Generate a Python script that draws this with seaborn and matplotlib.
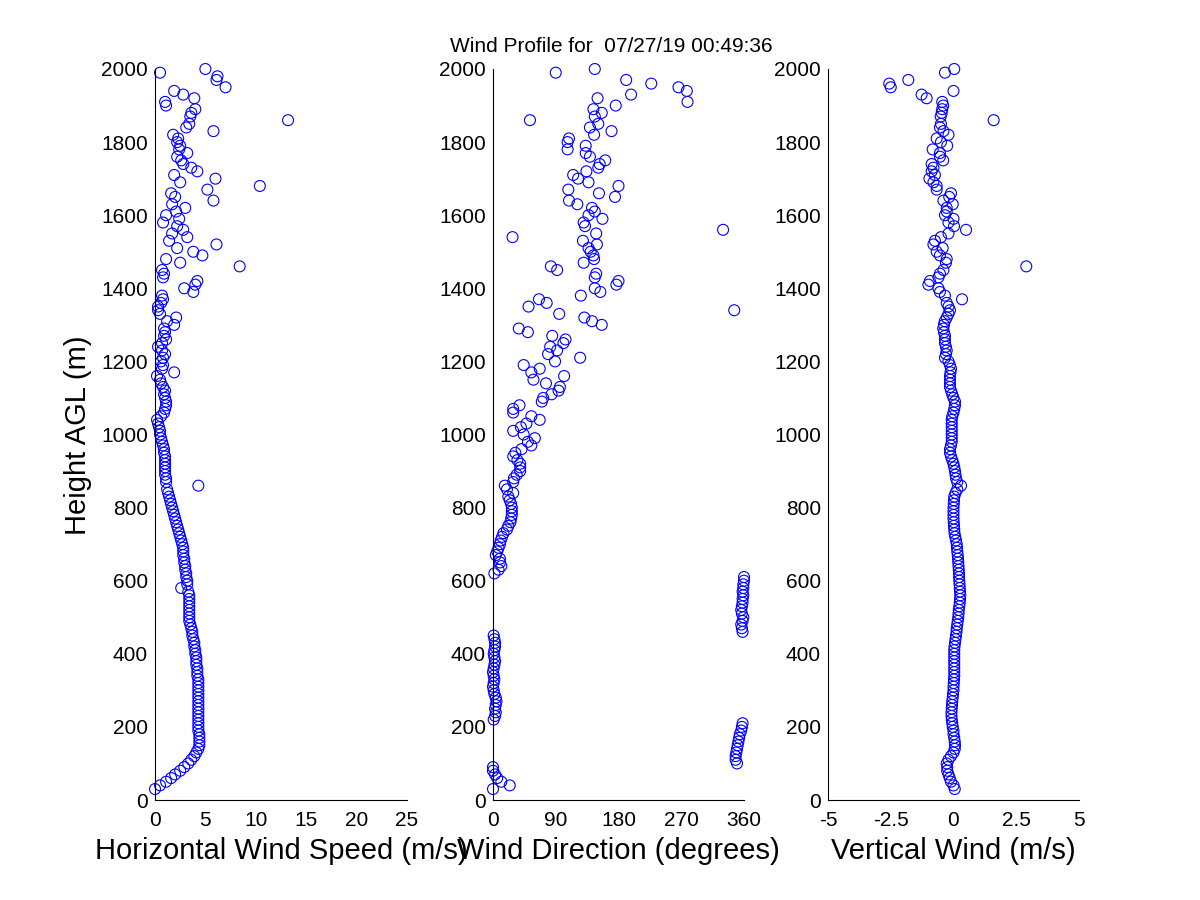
import numpy as np
import pandas as pd
import matplotlib
matplotlib.use("Agg")
import matplotlib.pyplot as plt
import seaborn as sns

nan = np.nan

# Range-gate heights (m AGL), 30 m to 2000 m every 10 m
heights = list(range(30, 2001, 10))

# Horizontal wind speed (m/s)
speed = [
    0.0, 0.5, 1.1, 1.6, 2.0, 2.5, 2.9, 3.3, 3.6, 3.9,      # 30-120
    4.1, 4.3, 4.4, 4.4, 4.4, 4.4, 4.3, 4.3, 4.3, 4.3,      # 130-220
    4.3, 4.3, 4.3, 4.3, 4.3, 4.3, 4.3, 4.3, 4.3, 4.3,      # 230-320
    4.3, 4.2, 4.2, 4.2, 4.1, 4.1, 4.1, 4.0, 4.0, 3.9,      # 330-420
    3.9, 3.8, 3.7, 3.7, 3.6, 3.5, 3.4, 3.4, 3.4, 3.4,      # 430-520
    3.4, 3.4, 3.4, 3.4, 3.3, 2.6, 3.2, 3.2, 3.1, 3.1,      # 530-620
    3.0, 3.0, 2.9, 2.9, 2.8, 2.8, 2.8, 2.7, 2.6, 2.5,      # 630-720
    2.4, 2.3, 2.2, 2.1, 2.0, 1.9, 1.8, 1.7, 1.6, 1.5,      # 730-820
    1.4, 1.3, 1.2, 4.3, 1.1, 1.1, 1.0, 1.0, 1.0, 1.0,      # 830-920
    1.0, 1.0, 0.9, 0.9, 0.8, 0.7, 0.6, 0.5, 0.5, 0.4,      # 930-1020
    0.3, 0.2, 0.6, 0.9, 1.0, 1.1, 1.1, 1.0, 0.9, 1.0,      # 1030-1120
    0.8, 0.6, 0.5, 0.2, 1.9, 0.7, 0.8, 0.6, 0.8, 1.0,      # 1130-1220
    0.7, 0.3, 0.7, 1.1, 0.9, 1.0, 0.9, 1.9, 1.2, 2.1,      # 1230-1320
    0.5, 0.3, 0.3, 0.6, 0.8, 0.7, 3.8, 2.9, 4.0, 4.2,      # 1330-1420
    0.8, 0.9, 0.7, 8.4, 2.5, 1.1, 4.7, 3.8, 2.2, 6.1,      # 1430-1520
    1.4, 3.2, 1.7, 2.8, 2.2, 0.8, 2.4, 1.1, 2.1, 3.0,      # 1530-1620
    1.7, 5.8, 2.0, 1.6, 5.2, 10.4, 2.5, 6.0, 1.9, 4.2,     # 1630-1720
    3.6, 2.8, 2.6, 2.2, 3.2, 2.4, 2.5, 2.2, 2.3, 1.8,      # 1730-1820
    5.8, 3.1, 3.4, 13.2, 3.5, 3.6, 4.0, 1.1, 1.0, 3.9,     # 1830-1920
    2.8, 1.9, 7.0, nan, 6.1, 6.2, 0.5, 5.0,                # 1930-2000
]

# Wind direction (degrees)
direction = [
    0, 24, 12, 6, 3, 0, 0, 350, 348, 348,                  # 30-120
    349, 350, 351, 352, 353, 354, 356, 357, 358, 1,        # 130-220
    3, 4, 3, 4, 5, 4, 2, 1, 0, 1,                          # 230-320
    2, 1, 0, 1, 2, 3, 2, 1, 2, 3,                          # 330-420
    3, 2, 1, 358, 357, 356, 358, 359, 357, 356,            # 430-520
    357, 358, 358, 359, 358, 359, 359, 360, 360, 2,        # 530-620
    8, 12, 10, 10, 4, 6, 8, 10, 11, 13,                    # 630-720
    15, 20, 22, 25, 26, 27, 27, 27, 26, 24,                # 730-820
    22, 29, 20, 17, 29, 30, 34, 39, 39, 39,                # 830-920
    35, 29, 32, 41, 55, 50, 60, 44, 29, 40,                # 930-1020
    48, 67, 55, 29, 29, 38, 70, 72, 84, 94,                # 1030-1120
    96, 76, 58, 102, 55, 67, 44, 89, 125, 79,              # 1130-1220
    92, 82, 101, 104, 85, 50, 37, 156, 142, 131,           # 1230-1320
    95, 346, 51, 77, 66, 126, 154, 146, 177, 180,          # 1330-1420
    146, 148, 92, 83, 130, 145, 144, 140, 137, 149,        # 1430-1520
    129, 28, 148, 330, 132, 130, 157, 137, 146, 142,       # 1530-1620
    121, 109, 175, 152, 108, 180, 137, 122, 115, 134,      # 1630-1720
    151, 153, 161, 139, 133, 107, 133, 107, 109, 145,      # 1730-1820
    170, 139, 151, 53, 146, 156, 144, 176, 279, 150,       # 1830-1920
    198, 278, 266, 227, 191, nan, 90, 146,                 # 1930-2000
]

# Vertical wind (m/s)
vertical = [
    0.05, 0.0, -0.1, -0.15, -0.2, -0.25, -0.25, -0.27, -0.2, -0.1,       # 30-120
    0.0, 0.05, 0.06, 0.05, 0.03, 0.0, 0.0, -0.03, -0.05, -0.07,          # 130-220
    -0.08, -0.08, -0.07, -0.06, -0.05, -0.03, -0.02, 0.0, 0.0, 0.01,     # 230-320
    0.02, 0.03, 0.03, 0.03, 0.03, 0.03, 0.03, 0.03, 0.03, 0.04,          # 330-420
    0.06, 0.08, 0.1, 0.12, 0.13, 0.15, 0.17, 0.19, 0.2, 0.21,            # 430-520
    0.23, 0.25, 0.26, 0.27, 0.26, 0.25, 0.24, 0.23, 0.22, 0.22,          # 530-620
    0.21, 0.2, 0.19, 0.18, 0.17, 0.15, 0.14, 0.13, 0.1, 0.07,            # 630-720
    0.04, 0.03, 0.02, 0.01, 0.0, 0.0, 0.0, 0.0, 0.01, 0.02,              # 730-820
    0.03, 0.08, 0.15, 0.3, 0.15, 0.1, 0.08, 0.06, 0.03, 0.0,             # 830-920
    -0.05, -0.1, -0.14, -0.14, -0.1, -0.07, -0.07, -0.07, -0.07, -0.07,  # 930-1020
    -0.07, -0.07, -0.05, 0.0, 0.03, 0.06, 0.06, 0.0, -0.05, -0.1,        # 1030-1120
    -0.14, -0.14, -0.14, -0.14, -0.12, -0.1, -0.14, -0.2, -0.34, -0.3,   # 1130-1220
    -0.27, -0.3, -0.34, -0.34, -0.34, -0.38, -0.41, -0.38, -0.35, -0.27, # 1230-1320
    -0.2, -0.14, -0.2, -0.27, 0.34, -0.34, -0.54, -0.6, -1.0, -0.94,     # 1330-1420
    -0.6, -0.54, -0.4, 2.9, -0.3, -0.27, -0.54, -0.67, -0.43, -0.8,      # 1430-1520
    -0.74, -0.5, -0.2, 0.5, 0.02, -0.2, 0.0, -0.34, -0.27, -0.27,        # 1530-1620
    -0.03, -0.4, -0.17, -0.1, -0.67, -0.67, -0.8, -0.96, -0.74, -0.87,   # 1630-1720
    -0.8, -0.87, -0.41, -0.54, -0.54, -0.83, -0.25, -0.5, -0.67, -0.2,   # 1730-1820
    -0.4, -0.54, -0.5, 1.6, -0.51, -0.47, -0.45, -0.41, -0.45, -1.07,    # 1830-1920
    -1.27, 0.0, -2.5, -2.56, -1.8, nan, -0.34, 0.03,                     # 1930-2000
]

y_ticks = [0, 200, 400, 600, 800, 1000, 1200, 1400, 1600, 1800, 2000]
speed_ticks = [0, 5, 10, 15, 20, 25]
dir_ticks = [0, 90, 180, 270, 360]
vert_ticks = [-5, -2.5, 0, 2.5, 5]
vert_tick_labels = ["-5", "-2.5", "0", "2.5", "5"]

title_text = "Wind Profile for  07/27/19 00:49:36"
y_label = "Height AGL (m)"
x_labels = ["Horizontal Wind Speed (m/s)", "Wind Direction (degrees)", "Vertical Wind (m/s)"]

assert len(heights) == len(speed) == len(direction) == len(vertical)

df = pd.DataFrame({"height": heights, "speed": speed,
                   "direction": direction, "vertical": vertical})

sns.set_style("white")
plt.rcParams["font.family"] = ["Liberation Sans", "DejaVu Sans"]

fig = plt.figure(figsize=(12, 9), dpi=100)
fig.patch.set_facecolor("white")

positions = [
    [155 / 1200, 100 / 900, 252 / 1200, 731 / 900],
    [493 / 1200, 100 / 900, 251 / 1200, 731 / 900],
    [828 / 1200, 100 / 900, 251 / 1200, 731 / 900],
]
cols = ["speed", "direction", "vertical"]
xlims = [(0, 25), (0, 360), (-5, 5)]
xticks = [speed_ticks, dir_ticks, vert_ticks]

for i in range(3):
    ax = fig.add_axes(positions[i])
    sns.scatterplot(data=df, x=cols[i], y="height", ax=ax, marker="o", s=62,
                    facecolor="none", edgecolor="#0000ff", linewidth=0.8,
                    clip_on=False, legend=False)
    ax.set_xlim(*xlims[i])
    ax.set_ylim(0, 2000)
    ax.set_xticks(xticks[i])
    if i == 2:
        ax.set_xticklabels(vert_tick_labels)
    ax.set_yticks(y_ticks)
    for side in ["top", "right"]:
        ax.spines[side].set_visible(False)
    for side in ["left", "bottom"]:
        ax.spines[side].set_color("black")
        ax.spines[side].set_linewidth(0.8)
    ax.tick_params(axis="both", direction="in", length=5, width=0.8,
                   colors="black", labelsize=15)
    ax.tick_params(axis="x", pad=8)
    ax.tick_params(axis="y", pad=5)
    ax.set_xlabel(x_labels[i], fontsize=21, color="black", labelpad=5)
    ax.set_ylabel("")
    ax.set_facecolor("white")

fig.text(78 / 1200, 1 - 435 / 900, y_label, rotation=90, ha="center",
         va="center", fontsize=21, color="black")
fig.text(611 / 1200, 1 - 52 / 900, title_text, ha="center", va="baseline",
         fontsize=15, color="black")

fig.savefig("out.png", dpi=100, facecolor="white")
